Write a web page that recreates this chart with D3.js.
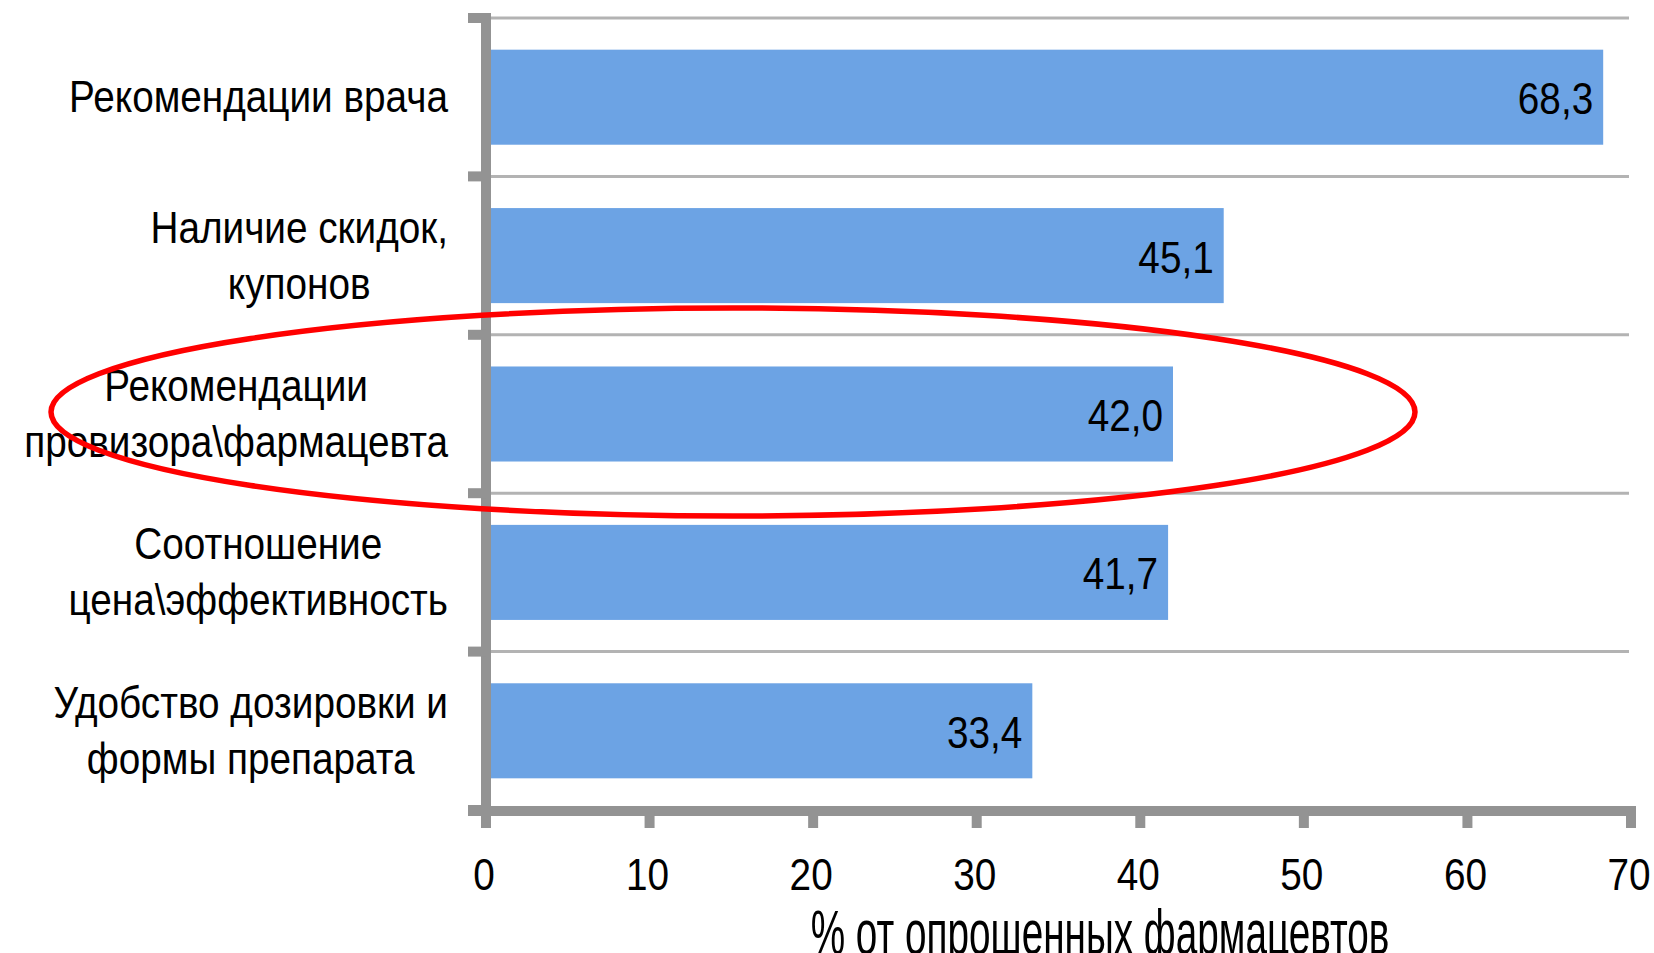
<!DOCTYPE html>
<html>
<head>
<meta charset="utf-8">
<script src="https://cdn.jsdelivr.net/npm/d3@7/dist/d3.min.js"></script>
<style>
    html, body { margin: 0; padding: 0; background: #fff; }
    svg { display: block; }
    text { font-family: 'Liberation Sans Narrow', 'Liberation Sans', Arial, sans-serif; fill: #000; }
</style>
</head>
<body>
<div class="chart-container"></div>
<script>
/* global d3 */
var categories = [
    ['Рекомендации врача'],
    ['Наличие скидок,', 'купонов'],
    ['Рекомендации', 'провизора\\фармацевта'],
    ['Соотношение', 'цена\\эффективность'],
    ['Удобство  дозировки и', 'формы препарата']
];
var values = [68.3, 45.1, 42.0, 41.7, 33.4];
var xTicks = [0, 10, 20, 30, 40, 50, 60, 70];
var xTitle = '% от опрошенных фармацевтов';

(function() {
    'use strict';

    var width = 1654,
        height = 953,
        fontSize = 44,
        squeeze = 0.88,   // the original font is narrower than Liberation Sans
        axisColor = '#939393',
        gridColor = '#b3b3b3',
        barColor = '#6ca3e4';

    var svg = d3.select('.chart-container')
        .append('svg')
        .attr('width', width)
        .attr('height', height);

    function place(px, py, sy) {
        return 'translate(' + px + ',' + py + ') scale(' + squeeze + ',' + (sy || 1) + ')';
    }

    var x = d3.scaleLinear().domain([0, 70]).range([486, 1631]);

    var y = d3.scaleBand()
        .domain(d3.range(categories.length))
        .range([18, 810])
        .paddingInner(0.4)
        .paddingOuter(0.2);

    var step = y.step();
    var bounds = d3.range(categories.length + 1).map(function(i) { return 18 + i * step; });

    // horizontal gridlines between categories
    svg.append('g').selectAll('line')
        .data(bounds.slice(0, -1))
        .enter()
        .append('line')
        .attr('x1', x(0))
        .attr('x2', x(70) - 2)
        .attr('y1', function(d) { return d; })
        .attr('y2', function(d) { return d; })
        .attr('stroke', gridColor)
        .attr('stroke-width', 3);

    // bars
    svg.append('g').selectAll('rect')
        .data(values)
        .enter()
        .append('rect')
        .attr('x', x(0))
        .attr('y', function(d, i) { return y(i); })
        .attr('width', function(d) { return x(d) - x(0); })
        .attr('height', y.bandwidth())
        .attr('fill', barColor);

    // value labels
    svg.append('g').selectAll('text')
        .data(values)
        .enter()
        .append('text')
        .attr('transform', function(d, i) { return place(x(d) - 10, y(i) + y.bandwidth() / 2 + 17); })
        .attr('text-anchor', 'end')
        .attr('font-size', fontSize)
        .text(function(d) { return d.toFixed(1).replace('.', ','); });

    // y axis
    var yAxis = svg.append('g');
    yAxis.append('line')
        .attr('x1', x(0)).attr('x2', x(0))
        .attr('y1', bounds[0] - 5).attr('y2', bounds[bounds.length - 1] + 6)
        .attr('stroke', axisColor)
        .attr('stroke-width', 10);
    yAxis.selectAll('.tick')
        .data(bounds)
        .enter()
        .append('line')
        .attr('class', 'tick')
        .attr('x1', x(0) - 18).attr('x2', x(0))
        .attr('y1', function(d) { return d; })
        .attr('y2', function(d) { return d; })
        .attr('stroke', axisColor)
        .attr('stroke-width', 10);

    // x axis
    var xAxis = svg.append('g');
    xAxis.append('line')
        .attr('x1', x(0) - 18).attr('x2', x(70) + 5)
        .attr('y1', 811).attr('y2', 811)
        .attr('stroke', axisColor)
        .attr('stroke-width', 10);
    xAxis.selectAll('.tick')
        .data(xTicks)
        .enter()
        .append('line')
        .attr('class', 'tick')
        .attr('x1', function(d) { return x(d); })
        .attr('x2', function(d) { return x(d); })
        .attr('y1', 811).attr('y2', 828)
        .attr('stroke', axisColor)
        .attr('stroke-width', 10);
    xAxis.selectAll('.label')
        .data(xTicks)
        .enter()
        .append('text')
        .attr('class', 'label')
        .attr('transform', function(d) { return place(x(d) - 2, 890); })
        .attr('text-anchor', 'middle')
        .attr('font-size', fontSize)
        .text(function(d) { return d; });

    // axis title, stretched tall and running off the bottom edge like the original
    svg.append('text')
        .attr('transform', place(1100, 954, 1.45))
        .attr('text-anchor', 'middle')
        .attr('font-size', fontSize)
        .text(xTitle);

    // category labels: lines centered in a block that is right-aligned to the axis
    var labelRight = 448,
        lineHeight = 56;
    categories.forEach(function(lines, i) {
        var cy = y(i) + y.bandwidth() / 2,
            firstBase = cy + 15 - (lines.length - 1) * lineHeight / 2;
        var t = svg.append('text')
            .attr('text-anchor', 'middle')
            .attr('font-size', fontSize);
        var spans = t.selectAll('tspan')
            .data(lines)
            .enter()
            .append('tspan')
            .attr('y', function(d, j) { return j * lineHeight; })
            .text(function(d) { return d; });
        var maxW = 0;
        spans.each(function() { maxW = Math.max(maxW, this.getComputedTextLength()); });
        spans.attr('x', -maxW / 2);
        t.attr('transform', place(labelRight, firstBase));
    });

    // red highlight ellipse around the pharmacist row
    var hl = y(2) + y.bandwidth() / 2;
    svg.append('ellipse')
        .attr('cx', 733)
        .attr('cy', hl - 2)
        .attr('rx', 682)
        .attr('ry', 104)
        .attr('fill', 'none')
        .attr('stroke', '#ff0000')
        .attr('stroke-width', 5.5);
})();
</script>
</body>
</html>
